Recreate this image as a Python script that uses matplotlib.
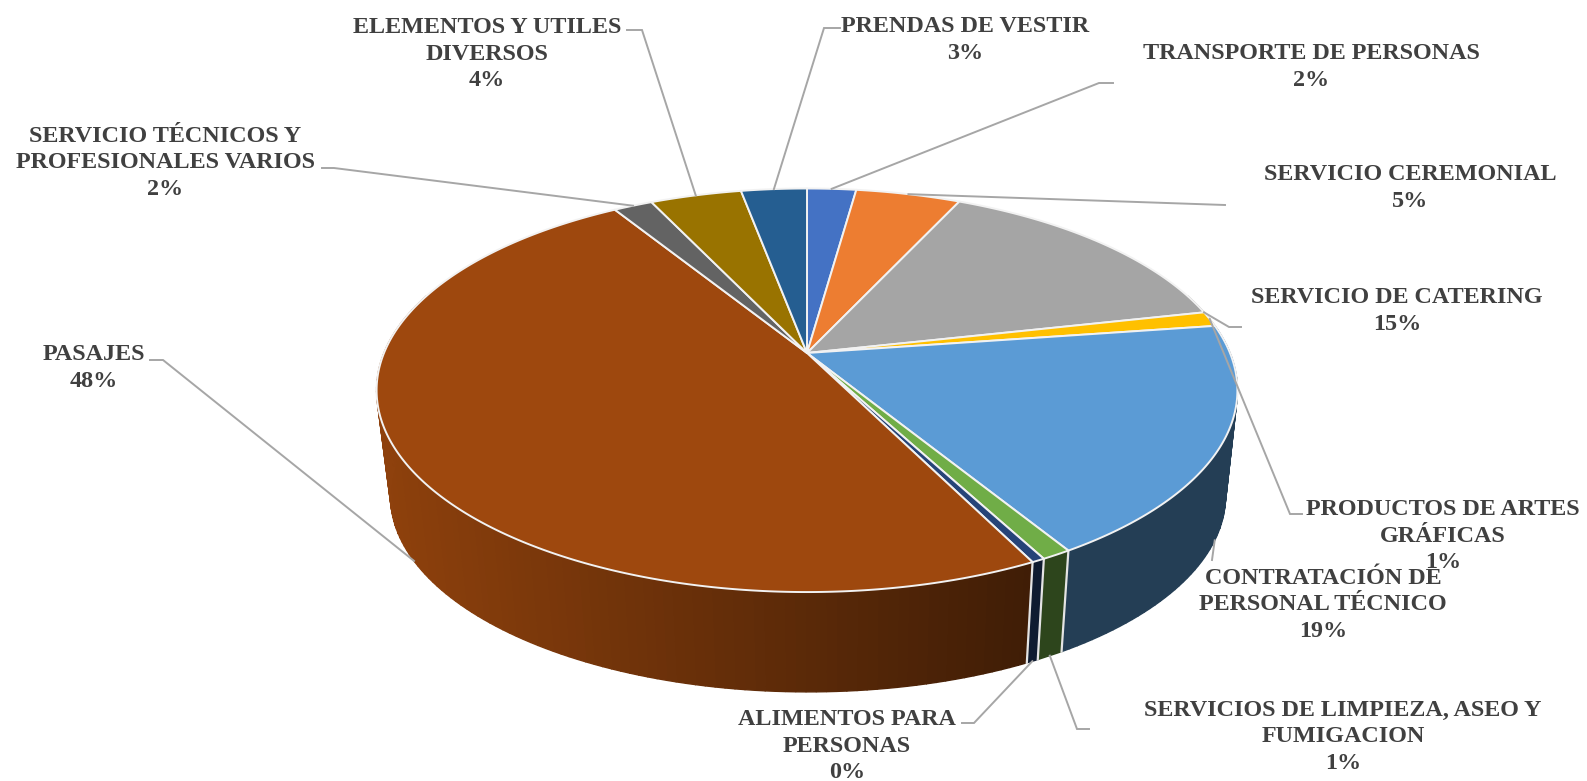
import numpy as np
from matplotlib import pyplot as plt

categories = ['TRANSPORTE DE PERSONAS', 'SERVICIO CEREMONIAL', 'SERVICIO DE CATERING',
              'PRODUCTOS DE ARTES\nGRÁFICAS', 'CONTRATACIÓN DE\nPERSONAL TÉCNICO',
              'SERVICIOS DE LIMPIEZA, ASEO Y\nFUMIGACION', 'ALIMENTOS PARA\nPERSONAS',
              'PASAJES', 'SERVICIO TÉCNICOS Y\nPROFESIONALES VARIOS',
              'ELEMENTOS Y UTILES\nDIVERSOS', 'PRENDAS DE VESTIR']
values = [2.2, 4.7, 14.6, 1.2, 18.55, 0.95, 0.42, 48.49, 1.75, 4.1, 2.95]
colors = ['#4472c4', '#ed7d31', '#a5a5a5', '#ffc000', '#5b9bd5', '#70ad47',
          '#264478', '#9e480e', '#636363', '#997300', '#255e91']

# label centre, where the leader leaves the text, elbow
label_pos = [(1311, 67), (1410, 188), (1397, 311), (1443, 536), (1323, 605), (1343, 737),
             (847, 746), (94, 368), (165, 163), (487, 54), (965, 40)]
leader_end = [(1113, 83), (1225, 205), (1241, 327), (1302, 514), (1212, 560), (1089, 729),
              (962, 723), (150, 360), (322, 168), (627, 30), (840, 28)]
leader_elbow = [(1099, 83), None, (1229, 327), (1290, 514), None, (1077, 729),
                (974, 723), (163, 360), (334, 168), (642, 30), (824, 28)]
# leaders that start on the lower rim instead of the top one
on_wall = [False, False, False, False, True, True, True, True, False, False, False]
# how far along its slice each leader starts
anchor_frac = [0.5, 0.5, 1.0, 0.5, 0.47, 0.5, 0.5, 0.5, 0.5, 0.5, 0.5]

# perspective of the disc
APEX_X, APEX_Y = 807, 353
RX, RY, K = 423, 194.9, 0.1847
BOT_X, BOT_Y, BOT_S = 808, 460, 0.97
TXT = '#404040'
LINE = '#a6a6a6'


def top_rim(theta):
    d = 1 + K * np.cos(theta)
    return APEX_X + RX * np.sin(theta) / d, APEX_Y - RY * np.cos(theta) / d


def bottom_rim(theta):
    d = 1 + K * np.cos(theta)
    return BOT_X + BOT_S * RX * np.sin(theta) / d, BOT_Y - BOT_S * RY * np.cos(theta) / d


def shade(col, x):
    # walls get darker going right, flat after the front
    t = np.clip((x - 390) / (1030 - 390), 0, 1)
    f = 0.9 - 0.5 * t
    rgb = np.array(plt.matplotlib.colors.to_rgb(col))
    return tuple(rgb * f)


fig = plt.figure(figsize=(15.87, 7.81), dpi=100)
ax = fig.add_axes([0, 0, 1, 1])
ax.set_xlim(0, 1587)
ax.set_ylim(781, 0)
ax.axis('off')

edges = np.cumsum([0] + values) / sum(values) * 2 * np.pi

# side wall, front part only
for i, col in enumerate(colors):
    a0, a1 = edges[i], edges[i + 1]
    lo, hi = max(a0, np.pi * 0.4), min(a1, np.pi * 1.6)
    if hi <= lo:
        continue
    n = max(2, int((hi - lo) / 0.02))
    th = np.linspace(lo, hi, n)
    for t0, t1 in zip(th[:-1], th[1:]):
        xt, yt = top_rim(np.array([t0, t1]))
        xb, yb = bottom_rim(np.array([t1, t0]))
        fc = shade(col, (xb[0] + xb[1]) / 2)
        ax.fill(np.r_[xt, xb], np.r_[yt, yb], facecolor=fc, edgecolor=fc, lw=1.0, zorder=2)

for a in edges[:-1]:
    if np.pi * 0.6 < a < np.pi * 1.4:
        xt, yt = top_rim(a)
        xb, yb = bottom_rim(a)
        ax.plot([xt, xb], [yt, yb], color='#e4e4e4', lw=1.6, zorder=3)

# top surface
for i, col in enumerate(colors):
    th = np.linspace(edges[i], edges[i + 1], max(4, int((edges[i + 1] - edges[i]) / 0.01)))
    x, y = top_rim(th)
    ax.fill(np.r_[APEX_X, x], np.r_[APEX_Y, y], facecolor=col, edgecolor='#f2f2f2', lw=1.4,
            joinstyle='round', zorder=4)

# leaders and labels
for i, name in enumerate(categories):
    mid = edges[i] + anchor_frac[i] * (edges[i + 1] - edges[i])
    sx, sy = bottom_rim(mid) if on_wall[i] else top_rim(mid)
    pts = [(sx, sy)]
    if leader_elbow[i] is not None:
        pts.append(leader_elbow[i])
    pts.append(leader_end[i])
    ax.plot([p[0] for p in pts], [p[1] for p in pts], color=LINE, lw=1.4, zorder=5,
            solid_joinstyle='miter')
    ax.text(label_pos[i][0], label_pos[i][1], f'{name}\n{round(values[i])}%', ha='center',
            va='center', color=TXT, family='Liberation Serif', weight='bold', fontsize=17.4,
            linespacing=1.34, zorder=6)

plt.savefig('out.png', dpi=100)
